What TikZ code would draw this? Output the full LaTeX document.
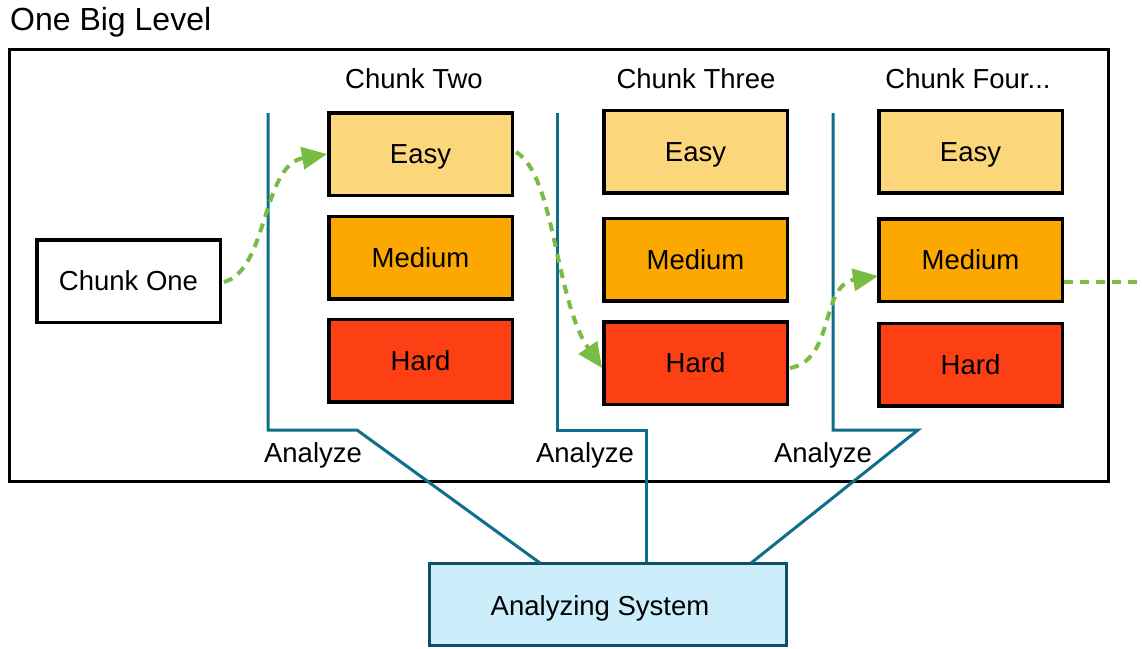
\documentclass[tikz,border=0pt]{standalone}
\usepackage{fontspec}
\setmainfont{Liberation Sans}
\usetikzlibrary{arrows.meta,calc}
\definecolor{easyc}{RGB}{252,214,122}
\definecolor{medc}{RGB}{252,168,0}
\definecolor{hardc}{RGB}{252,64,20}
\definecolor{tealc}{RGB}{15,110,140}
\definecolor{sysfill}{RGB}{204,238,251}
\definecolor{sysdraw}{RGB}{12,80,104}
\definecolor{grn}{RGB}{120,188,68}
\begin{document}
\begin{tikzpicture}[x=1pt,y=-1pt,
  lbl/.style={font=\fontsize{27.5}{31}\selectfont,inner sep=0pt},
  box/.style={draw=black,line width=3.5pt,minimum width=183.5pt,minimum height=82.5pt,inner sep=0pt,text height=19.7pt,text depth=0pt,font=\fontsize{27.5}{31}\selectfont},
  easybox/.style={box,fill=easyc},
  medbox/.style={box,fill=medc},
  hardbox/.style={box,fill=hardc},
  bracket/.style={draw=tealc,line width=3pt},
  flow/.style={draw=grn,line width=4pt,dash pattern=on 9pt off 7pt,-{Triangle[length=25pt,width=22pt]}},
  flowplain/.style={draw=grn,line width=4pt,dash pattern=on 9pt off 7pt}
]
\useasboundingbox (0,0) rectangle (1142,648);
\node[font=\fontsize{32}{36}\selectfont,inner sep=0pt,anchor=base west] (title) at (10,30) {One Big Level};
\draw[line width=3pt] (9.5,49.5) rectangle (1108.5,481.5);

\node[box,fill=white] (c1) at (128.5,281) {Chunk One};

\node[lbl,anchor=base] (t2) at (414,88) {Chunk Two};
\node[lbl,anchor=base] (t3) at (696,88) {Chunk Three};
\node[lbl,anchor=base] (t4) at (968,88) {Chunk Four...};

\node[easybox] (e2) at (420.5,154) {Easy};
\node[medbox]  (m2) at (420.5,257.5) {Medium};
\node[hardbox] (h2) at (420.5,360.5) {Hard};

\node[easybox] (e3) at (695.5,151.5) {Easy};
\node[medbox]  (m3) at (695.5,259.5) {Medium};
\node[hardbox] (h3) at (695.5,363) {Hard};

\node[easybox] (e4) at (970.5,151.5) {Easy};
\node[medbox]  (m4) at (970.5,260) {Medium};
\node[hardbox] (h4) at (970.5,364.5) {Hard};

\node[draw=sysdraw,fill=sysfill,line width=3pt,minimum width=357pt,minimum height=82pt,inner sep=0pt] (sys) at (608,604.5) {};
\node[font=\fontsize{27.5}{31}\selectfont,inner sep=0pt,text height=19.7pt,text depth=0pt] (syst) at ($(sys.center)+(-8,1)$) {Analyzing System};

\node[lbl,anchor=base] (a1) at (313,462) {Analyze};
\node[lbl,anchor=base] (a2) at (585,462) {Analyze};
\node[lbl,anchor=base] (a3) at (823,462) {Analyze};

% brackets
\coordinate (b1t) at (268,113);
\coordinate (b1c) at (268,430);
\coordinate (b1e) at (357,430);
\coordinate (s1) at (540,563);
\draw[bracket] (b1t) -- (b1c) -- (b1e) -- (s1);

\coordinate (b2t) at (557,113);
\coordinate (b2c) at (557,430);
\coordinate (b2e) at (646,430);
\draw[bracket] (b2t) -- (b2c) -- (b2e) -- (b2e |- sys.north);

\coordinate (b3t) at (833,113);
\coordinate (b3c) at (833,430);
\coordinate (b3e) at (918,430);
\coordinate (s3) at (751,563);
\draw[bracket] (b3t) -- (b3c) -- (b3e) -- (s3);

% flow
\draw[flow] ($(c1.east)+(2,1)$) .. controls (268,270) and (262,165) .. (e2.west);
\draw[flow] ($(e2.east)+(2,-2)$) .. controls (555,175) and (555,300) .. ($(h3.west)+(0,5)$);
\draw[flow] ($(h3.east)+(1,5)$) .. controls (835,360) and (820,285) .. ($(m4.west)+(1,16)$);
\coordinate (outr) at (1142,282);
\draw[flowplain] ($(m4.east)+(0,22)$) -- (outr);
\end{tikzpicture}
\end{document}
